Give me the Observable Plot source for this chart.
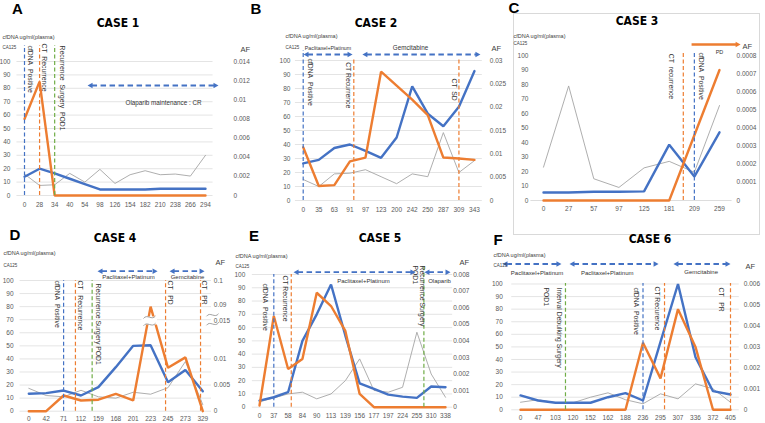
<!DOCTYPE html>
<html><head><meta charset="utf-8">
<script src="https://cdn.jsdelivr.net/npm/d3@7"></script>
<script src="https://cdn.jsdelivr.net/npm/@observablehq/plot@0.6"></script>
<style>
body{margin:0;background:#fff;}
#wrap{position:relative;width:765px;height:423px;overflow:hidden;font-family:"Liberation Sans",Arial,sans-serif;}
.box{position:absolute;}
.title{position:absolute;transform:translate(-50%,-50%);font-family:"Liberation Sans Narrow","DejaVu Sans Condensed","Liberation Sans",sans-serif;font-stretch:condensed;font-weight:bold;font-size:12px;white-space:nowrap;color:#000;}
.letter{position:absolute;transform:translate(-50%,-50%);font-family:"Liberation Sans",Arial,sans-serif;font-weight:bold;font-size:15px;color:#000;}
.cbox{position:absolute;left:513px;top:13px;width:245px;height:220px;border:1px solid #d9d9d9;}
</style></head><body><div id="wrap"></div>
<script>
// ---------------- DATA ----------------
// CASE 1
const c1Days = ["0","28","34","40","54","98","126","154","182","210","238","266","294"];
const c1CfDNA = [14,20,16.5,12.5,8.5,4.5,4.5,4.5,4.5,5,5,5,5];
const c1AF = [0.008,0.0119,0,0,0,0,0,0,0,0,0,0,0];
const c1CA125 = [16,7.5,8,16.5,10,19.5,9,15.5,18.5,15.5,16,14.5,30];
const c1AFTicks = [0,0.002,0.004,0.006,0.008,0.01,0.012,0.014];
const c1Events = [{at:0,type:"cfDNA",label:"cfDNA\u00a0\u00a0Positive"},{at:1,type:"CT",label:"CT\u00a0\u00a0Recurrence"},{at:2,type:"surgery",label:"Recurrence\u00a0\u00a0Surgery\u00a0\u00a0POD1"}];
const c1Treat = [{from:4.18,to:12.86,label:"Olaparib maintenance : CR"}];

// CASE 2
const c2Days = ["0","35","63","91","97","123","200","242","250","287","309","343"];
const c2CfDNA = [26.5,29,37.5,40,35.5,30.5,45,81.5,62,53,67,92.5];
const c2AF = [0.0114,0.0031,0.0033,0.0084,0.0092,0.0276,0.0246,0.0216,0.0183,0.0092,0.009,0.0087];
const c2CA125 = [15,10,19,19.5,22,17,12,19,17,48.5,20,28.5];
const c2AFTicks = [0,0.005,0.01,0.015,0.02,0.025,0.03];
const c2Events = [{at:0,type:"cfDNA",label:"cfDNA\u00a0\u00a0Positive"},{at:3.25,type:"CT",label:"CT Recurrence"},{at:10,type:"CT",label:"CT\u00a0\u00a0SD"}];
const c2Treat = [{from:0.02,to:3.17,label:"Paclitaxel+Platinum"},{from:3.8,to:11.38,label:"Gemcitabine"}];

// CASE 3
const c3Days = ["0","27","57","97","125","181","209","259"];
const c3CfDNA = [5.5,5.5,6,6,6.3,38.5,16.5,47];
const c3AF = [0,0,0,0,0,0,0.00036,0.00072];
const c3CA125 = [23,79,15,9,22.5,27,19.5,65.5];
const c3AFTicks = [0,0.0001,0.0002,0.0003,0.0004,0.0005,0.0006,0.0007,0.0008];
const c3Events = [{at:5.56,type:"CT",label:"CT\u00a0\u00a0recurrence"},{at:6,type:"cfDNA",label:"cfDNA\u00a0\u00a0Positive"}];
const c3Treat = [{from:5.73,to:7.84,label:"PD"}];

// CASE 4
const c4Days = ["0","42","71","112","159","168","201","223","245","273","329"];
const c4CfDNA = [13.3,13.8,15.8,12,18.4,33.7,50,50.5,22.2,31.6,15.3];
const c4AF = [0,0,0.003,0.00205,0.0022,0.0033,0.00205,0.0805,0.0083,0.0102,0];
const c4CA125 = [17.5,12,11,16,11,10,14.5,13,18,38,5];
const c4AFTicks = [0,0.005,0.01,0.015,0.09,0.1];
const c4Events = [{at:2,type:"cfDNA",label:"cfDNA\u00a0\u00a0Positive"},{at:2.68,type:"CT",label:"CT\u00a0\u00a0\u00a0Recurrence"},{at:3.64,type:"surgery",label:"Recurrence Surgery POD1"},{at:7.86,type:"CT",label:"CT\u00a0\u00a0\u00a0PD"},{at:9.87,type:"CT",label:"CT\u00a0\u00a0\u00a0PR"}];
const c4Treat = [{from:3.95,to:7.4,label:"Paclitaxel+Platinum"},{from:8.09,to:10.1,label:"Gemcitabine"}];

// CASE 5
const c5Days = ["0","37","58","84","90","113","139","156","177","197","224","255","310","338"];
const c5CfDNA = [5,7.5,11.3,50,70,92.5,54,18,13.8,9.5,8,7,15.6,15];
const c5AF = [0.0001,0.0055,0.0023,0.0029,0.0069,0.0061,0.0046,0.0008,0,0,0,0,0,0];
const c5CA125 = [4,7,10,11.3,6.3,10,20,36.4,12.6,11.3,15,56.5,25,7.5];
const c5AFTicks = [0,0.001,0.002,0.003,0.004,0.005,0.006,0.007,0.008];
const c5Events = [{at:1,type:"cfDNA",label:"cfDNA\u00a0\u00a0Positive"},{at:2.22,type:"CT",label:"CT Recurrence"},{at:11.49,type:"surgery",label:"Recurrence Surgery\nPOD1"}];
const c5Treat = [{from:2.38,to:10.9,label:"Paclitaxel+Platinum"},{from:11.53,to:13.35,label:"Olaparib"}];

// CASE 6
const c6Days = ["0","47","103","120","152","162","188","236","295","307","336","372","405"];
const c6CfDNA = [11.4,7.4,5.6,5.6,5.6,10,13.2,7.4,54,100,41.8,14.8,12.2];
const c6AF = [0,0,0,0,0,0,0,0.0032,0.0015,0.0048,0.003,0,0];
const c6CA125 = [6,8,5.6,5.6,10,13.5,8,4.8,12.7,8.7,20.6,16.7,6];
const c6AFTicks = [0,0.001,0.002,0.003,0.004,0.005,0.006];
const c6Events = [{at:2.57,type:"surgery",label:"Interval Debulking Surgery\nPOD1"},{at:7,type:"cfDNA",label:"cfDNA\u00a0\u00a0Positive"},{at:8.23,type:"CT",label:"CT Recurence"},{at:12,type:"CT",label:"CT\u00a0\u00a0\u00a0PR"}];
const c6Treat = [{from:-1.03,to:2.34,label:"Paclitaxel+Platinum"},{from:2.8,to:7.89,label:"Paclitaxel+Platinum"},{from:8.74,to:12,label:"Gemcitabine"}];

const leftTicks = [0,10,20,30,40,50,60,70,80,90,100];

// ---------------- STYLE / LAYOUT ----------------
const BLUE="#4472C4", ORANGE="#ED7D31", GRAY="#A5A5A5", GREEN="#70AD47";
const evColor = {cfDNA:BLUE, CT:ORANGE, surgery:GREEN};
const headR = {draw(c){c.moveTo(0,0);c.lineTo(-5,-2.8);c.lineTo(-5,2.8);c.closePath();}};
const headL = {draw(c){c.moveTo(0,0);c.lineTo(5,-2.8);c.lineTo(5,2.8);c.closePath();}};
const squig = {draw(c){c.moveTo(-6,1.3);c.bezierCurveTo(-2.5,-3.8,2.5,3.8,6,-1.3);}};

const panels = [
 {d:{days:c1Days,cf:c1CfDNA,af:c1AF,ca:c1CA125,ticks:c1AFTicks,ev:c1Events,tr:c1Treat},
  L:0,T:28,W:252,H:190,x0:24,xN:205,y100:61,y0:195,padL:6.5,padR:20.5,padB:6.7,grid:true,
  afDom:[0,0.014],afRng:[0,100],
  hdr:{cf:[2,37],ca:[2,47],af:[240,49]},
  evTop:[45,45,45],evTT:[45,43,45],evDx:[5.3,4.7,7.4],
  trY:85,trTxt:[[163,102]],trFont:[6.3],trKind:"blue"},
 {d:{days:c2Days,cf:c2CfDNA,af:c2AF,ca:c2CA125,ticks:c2AFTicks,ev:c2Events,tr:c2Treat},
  L:252,T:28,W:258,H:190,x0:302.7,xN:474,y100:60,y0:200,padL:5,padR:7.5,padB:6.7,grid:true,
  afDom:[0,0.03],afRng:[0,100],
  hdr:{cf:[285,36],ca:[285,47.5],af:[491,47.7]},
  evTop:[50,57,57],evTT:[58,61.7,78],evDx:[7.3,-5.3,-5],
  trY:54,trTxt:[[327.5,47.7],[410,47.7]],trFont:[5.3,6.3],trKind:"blue"},
 {d:{days:c3Days,cf:c3CfDNA,af:c3AF,ca:c3CA125,ticks:c3AFTicks,ev:c3Events,tr:c3Treat},
  L:510,T:28,W:255,H:190,x0:543,xN:719,y100:55,y0:200,padL:2.5,padR:4.5,padB:6,grid:false,
  afDom:[0,0.0008],afRng:[0,100],
  hdr:{cf:[513,36],ca:[513,43],af:[742,46.5]},
  evTop:[53,52],evTT:[53.3,52],evDx:[-11.7,6.7],
  trY:44,trTxt:[[719,51.5]],trFont:[5.5],trKind:"orange"},
 {d:{days:c4Days,cf:c4CfDNA,af:c4AF,ca:c4CA125,ticks:c4AFTicks,ev:c4Events,tr:c4Treat},
  L:0,T:245,W:250,H:178,x0:28.3,xN:202.3,y100:280,y0:410.7,padL:6.5,padR:2.3,padB:4.8,grid:true,
  afDom:[0,0.01,0.015,0.09,0.1],afRng:[0,40,69,81.6,100],
  hdr:{cf:[3,253],ca:[3,265],af:[215,262]},
  evTop:[280,280,280,280,280],evTT:[280,280,283,280,280],evDx:[-6.3,5,5.6,5,4],
  trY:270.7,trTxt:[[128,277],[187,277]],trFont:[6,6],trKind:"blue",brk:true},
 {d:{days:c5Days,cf:c5CfDNA,af:c5AF,ca:c5CA125,ticks:c5AFTicks,ev:c5Events,tr:c5Treat},
  L:230,T:245,W:262,H:178,x0:259,xN:445,y100:274,y0:406.7,padL:7,padR:0.5,padB:6,grid:true,
  afDom:[0,0.008],afRng:[0,100],
  hdr:{cf:[235,256],ca:[235,266],af:[459,262]},
  evTop:[274,274,266],evTT:[283,275,[265,265]],evDx:[-8.3,-5.7,[-1.8,-8.3]],
  trY:271.7,trTxt:[[363,280.7],[439,280.7]],trFont:[6,6],trKind:"blue"},
 {d:{days:c6Days,cf:c6CfDNA,af:c6AF,ca:c6CA125,ticks:c6AFTicks,ev:c6Events,tr:c6Treat},
  L:490,T:245,W:275,H:178,x0:520,xN:730,y100:283.5,y0:409.3,padL:9,padR:4.5,padB:5.2,grid:true,
  afDom:[0,0.006],afRng:[0,100],
  hdr:{cf:[493,255],ca:[493,265],af:[745,266]},
  evTop:[283,283,283,283],evTT:[[287,287],287,286,287],evDx:[[-6,-19],-6.5,-7.3,-9.3],
  trY:263.5,trTxt:[[536.6,273],[606.7,272.7],[700.7,271.7]],trFont:[6,6,6],trKind:"blue"}
];

const titles = [["CASE 1",118,22.5],["CASE 2",376,22.5],["CASE 3",637,20.5],["CASE 4",115,238],["CASE 5",380,238],["CASE 6",650,239]];
const letters = [["A",17.5,8],["B",256,8],["C",514,7],["D",15,234],["E",254,235],["F",498,239]];

const wrap = document.getElementById("wrap");
const cb = document.createElement("div"); cb.className="cbox"; wrap.appendChild(cb);

function build(p){
  const d = p.d, n = d.days.length;
  const s = (p.xN - p.x0)/(n-1);
  const fl = p.x0 - s/2, fr = p.xN + s/2;
  const X = px => (px - p.x0)/s;
  const Y = py => (p.y0 - py)/(p.y0 - p.y100)*100;
  const af = d3.scaleLinear(p.afDom, p.afRng);
  const idx = d3.range(n);
  const rt = d.ticks.map(t => af(t));
  const marks = [];
  if (p.grid) marks.push(Plot.ruleY(leftTicks, {stroke:"#d9d9d9", strokeWidth:0.7}));
  else marks.push(Plot.ruleY([0], {stroke:"#d9d9d9", strokeWidth:0.9}));
  marks.push(Plot.axisY(leftTicks, {anchor:"left", tickSize:0, tickPadding:p.padL, fontSize:6.5, fill:"#595959", label:null}));
  marks.push(Plot.axisY(rt, {anchor:"right", tickSize:0, tickPadding:p.padR, fontSize:6.5, fill:"#595959", label:null,
    tickFormat: v => String(d.ticks[rt.indexOf(v)])}));
  marks.push(Plot.axisX(idx, {tickSize:0, tickPadding:p.padB, fontSize:6.5, fill:"#595959", label:null, tickFormat: i => d.days[i]}));
  // data lines
  marks.push(Plot.line(idx, {x:i=>i, y:i=>d.ca[i], stroke:GRAY, strokeWidth:0.9}));
  marks.push(Plot.line(idx, {x:i=>i, y:i=>d.cf[i], stroke:BLUE, strokeWidth:2.4, strokeLinejoin:"miter"}));
  marks.push(Plot.line(idx, {x:i=>i, y:i=>af(d.af[i]), stroke:ORANGE, strokeWidth:2.4, strokeLinejoin:"miter"}));
  if (p.brk) {
    marks.push(Plot.rect([0], {x1:X(141.5), x2:X(157), y1:Y(324.5), y2:Y(316.5), fill:"white"}));
    marks.push(Plot.dot([[X(149),Y(316.7)],[X(149),Y(324)],[X(212),Y(314.5)],[X(212),Y(323.5)]], {x:v=>v[0], y:v=>v[1], symbol:squig, fill:"none", stroke:"#8c8c8c", strokeWidth:0.8}));
  }
  // events
  marks.push(Plot.ruleX(d.ev, {x:"at", y1:0, y2:(e,i)=>Y(p.evTop[i]), stroke:e=>evColor[e.type], strokeDasharray:"4,2.5", strokeWidth:1.2}));
  const evT = [];
  d.ev.forEach((e,i)=>{
    e.label.split("\n").forEach((t,j)=>{
      const dx = [].concat(p.evDx[i])[j], tt = [].concat(p.evTT[i])[j];
      evT.push({x:e.at + dx/s, y:Y(tt), t});
    });
  });
  marks.push(Plot.text(evT, {x:"x", y:"y", text:"t", rotate:90, textAnchor:"start", lineAnchor:"middle", fontSize:6.8, fill:"#333"}));
  // treatments
  const col = p.trKind === "blue" ? BLUE : ORANGE;
  const sh = 4/s;
  marks.push(Plot.link(d.tr, {x1:t=>t.from+sh, x2:t=>t.to-sh, y1:Y(p.trY), y2:Y(p.trY), stroke:col,
    strokeWidth: p.trKind==="blue"?1.8:2.4, strokeDasharray: p.trKind==="blue"?"5.5,3.5":null}));
  marks.push(Plot.dot(d.tr, {x:t=>t.to, y:Y(p.trY), symbol:headR, fill:col, stroke:"none"}));
  if (p.trKind==="blue") marks.push(Plot.dot(d.tr, {x:t=>t.from, y:Y(p.trY), symbol:headL, fill:col, stroke:"none"}));
  d.tr.forEach((t,i)=>{
    marks.push(Plot.text([t], {x:X(p.trTxt[i][0]), y:Y(p.trTxt[i][1]), text:"label", fontSize:p.trFont[i], fill:"#333", lineAnchor:"middle"}));
  });
  // header texts
  marks.push(Plot.text(["cfDNA ug/ml(plasma)"], {x:X(p.hdr.cf[0]), y:Y(p.hdr.cf[1]), text:v=>v, textAnchor:"start", lineAnchor:"middle", fontSize:5.5, fill:"#404040"}));
  marks.push(Plot.text(["CA125"], {x:X(p.hdr.ca[0]), y:Y(p.hdr.ca[1]), text:v=>v, textAnchor:"start", lineAnchor:"middle", fontSize:4.5, fill:"#404040"}));
  marks.push(Plot.text(["AF"], {x:X(p.hdr.af[0]), y:Y(p.hdr.af[1]), text:v=>v, textAnchor:"start", lineAnchor:"middle", fontSize:7.5, fill:"#404040"}));

  const chart = Plot.plot({
    width:p.W, height:p.H,
    marginLeft: fl - p.L, marginRight: p.L + p.W - fr,
    marginTop: p.y100 - p.T, marginBottom: p.T + p.H - p.y0,
    x:{domain:[-0.5, n-0.5]},
    y:{domain:[0,100]},
    style:{fontFamily:"'Liberation Sans', Arial, sans-serif", background:"transparent", overflow:"visible", color:"#595959"},
    marks
  });
  const box = document.createElement("div");
  box.className="box";
  box.style.left=p.L+"px"; box.style.top=p.T+"px"; box.style.width=p.W+"px"; box.style.height=p.H+"px";
  box.appendChild(chart);
  wrap.appendChild(box);
}
panels.forEach(build);

titles.forEach(([t,x,y])=>{const e=document.createElement("div");e.className="title";e.textContent=t;e.style.left=x+"px";e.style.top=y+"px";wrap.appendChild(e);});
letters.forEach(([t,x,y])=>{const e=document.createElement("div");e.className="letter";e.textContent=t;e.style.left=x+"px";e.style.top=y+"px";wrap.appendChild(e);});
</script></body></html>
